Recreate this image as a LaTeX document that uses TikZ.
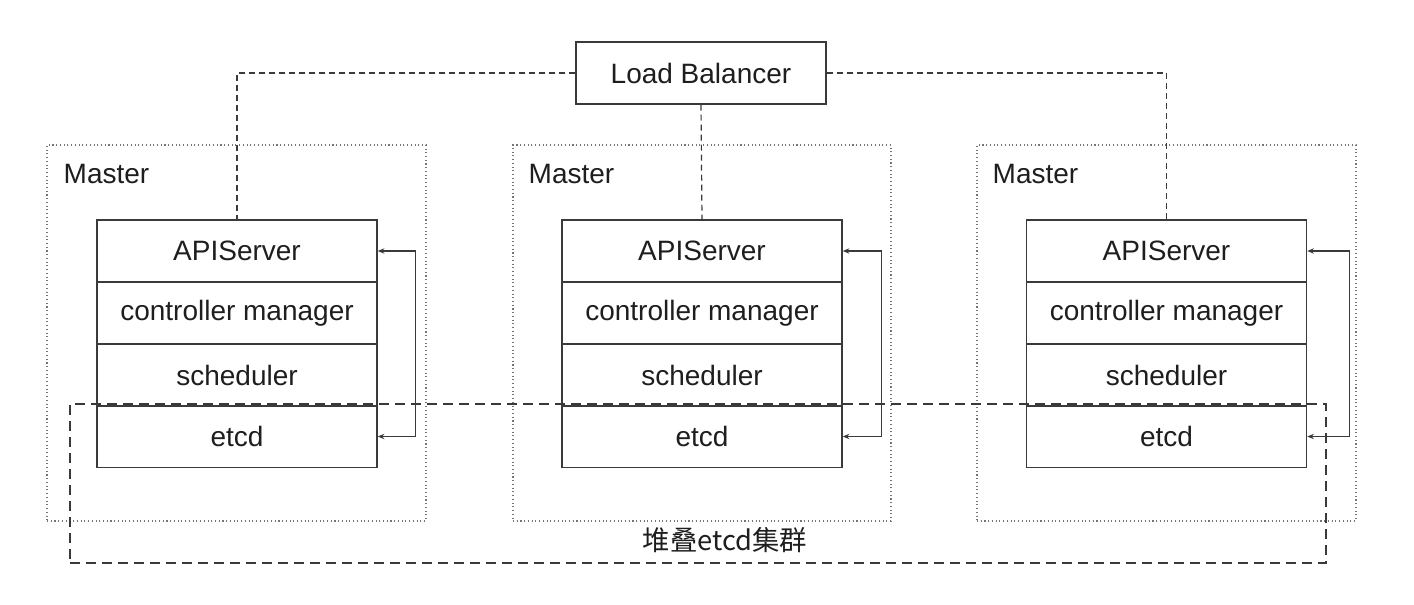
\documentclass[tikz,border=0pt]{standalone}
\usepackage{fontspec}
\setmainfont{Liberation Sans}
\newfontfamily\cjk{Noto Sans CJK SC}
\usetikzlibrary{arrows.meta}
\definecolor{ln}{HTML}{3A3A3A}
\definecolor{tx}{HTML}{1E1E1E}
\begin{document}
\begin{tikzpicture}[x=0.75pt,y=-0.75pt,
  lbl/.style={font=\fontsize{21}{25}\selectfont, text=tx},
  row/.style={draw=ln, line width=1.1pt, minimum width=210pt, minimum height=46.5pt, inner sep=0pt, lbl},
  masterbox/.style={draw=ln!70, dotted, line width=0.8pt, inner sep=0pt},
  clusterbox/.style={draw=ln, dash pattern=on 7.5pt off 4.5pt, line width=1pt, inner sep=0pt},
  lbline/.style={draw=ln, dash pattern=on 4.5pt off 3pt, line width=0.9pt},
  loop/.style={draw=ln, line width=1pt, {Stealth[length=5pt,width=4pt]}-{Stealth[length=5pt,width=4pt]}}
]
\useasboundingbox (0,0) rectangle (1414,604);
% master boxes
\node[masterbox, minimum width=284.25pt, minimum height=282pt] (m1) at (236.5,333) {};
\node[masterbox, minimum width=283.5pt, minimum height=282pt] (m2) at (702,333) {};
\node[masterbox, minimum width=284.25pt, minimum height=282pt] (m3) at (1166.5,333) {};
\node[lbl, anchor=west] (t1) at (59,174) {Master};
\node[lbl, anchor=west] (t2) at (524,174) {Master};
\node[lbl, anchor=west] (t3) at (988,174) {Master};
% stacks
\foreach \i/\cx/\d in {1/237/38, 2/702/39, 3/1166.5/42}{
  \node[row] (api\i) at (\cx,251) {APIServer};
  \node[row] (cm\i) at (\cx,313) {controller manager};
  \node[row] (sch\i) at (\cx,375) {scheduler};
  \node[row] (etcd\i) at (\cx,436.5) {etcd};
  \draw[loop] (api\i.east) -- ++(\d,0) |- (etcd\i.east);
}
% cluster box
\node[clusterbox, minimum width=942pt, minimum height=119.25pt] (cl) at (698,483.5) {};
\node[lbl, font=\cjk\fontsize{20.5}{24}\selectfont] (cltext) at (725,540) {堆叠etcd集群};
% load balancer
\node[draw=ln, line width=1.1pt, fill=white, minimum width=187.5pt, minimum height=46.5pt, inner sep=0pt, lbl] (lb) at (701,73) {Load Balancer};
\draw[lbline] (lb.west) -| (api1.north);
\draw[lbline] (lb.south) -- (api2.north);
\draw[lbline] (lb.east) -| (api3.north);
\end{tikzpicture}
\end{document}
